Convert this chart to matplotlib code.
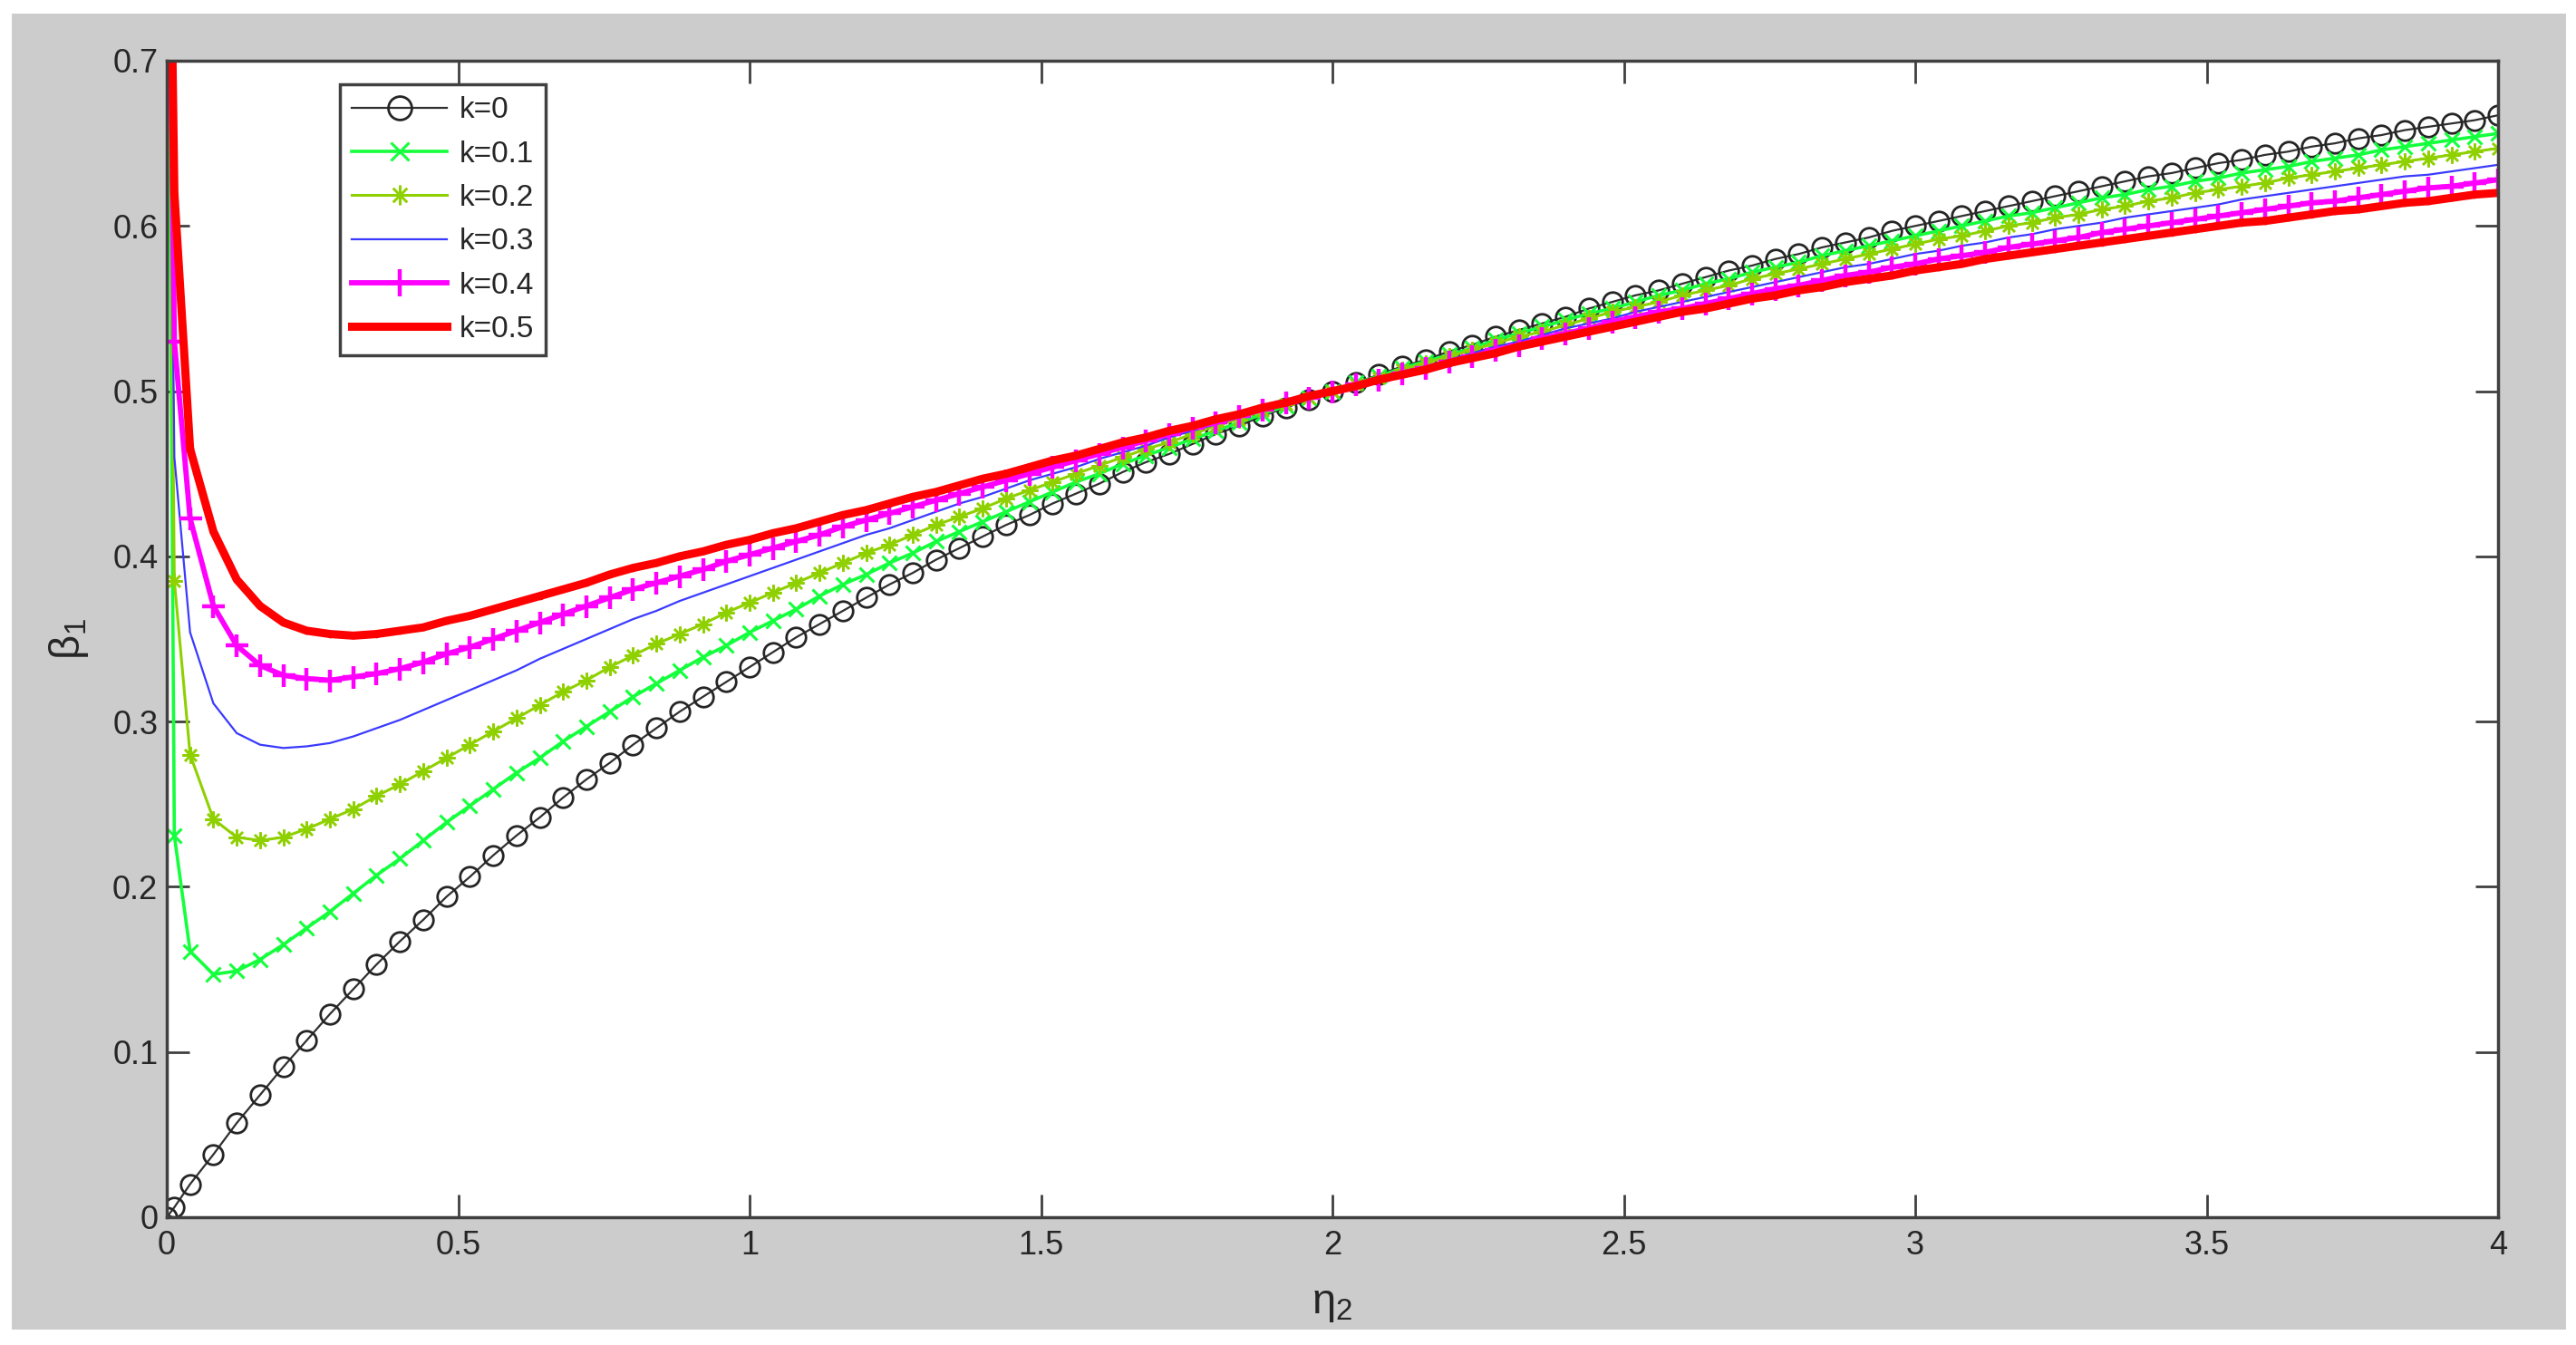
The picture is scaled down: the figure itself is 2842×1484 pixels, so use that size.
import matplotlib
matplotlib.use("Agg")
import matplotlib.pyplot as plt
from matplotlib.patches import Rectangle

plt.rcParams['font.family'] = ['Liberation Sans', 'DejaVu Sans']
plt.rcParams['mathtext.fontset'] = 'custom'
plt.rcParams['mathtext.rm'] = 'Liberation Sans'
plt.rcParams['mathtext.it'] = 'Liberation Sans'
plt.rcParams['mathtext.default'] = 'regular'

# ---------------- data ----------------
eta2 = [0.0, 0.013,
        0.04, 0.08, 0.12, 0.16, 0.20, 0.24, 0.28, 0.32, 0.36, 0.40,
        0.44, 0.48, 0.52, 0.56, 0.60, 0.64, 0.68, 0.72, 0.76, 0.80,
        0.84, 0.88, 0.92, 0.96, 1.00, 1.04, 1.08, 1.12, 1.16, 1.20,
        1.24, 1.28, 1.32, 1.36, 1.40, 1.44, 1.48, 1.52, 1.56, 1.60,
        1.64, 1.68, 1.72, 1.76, 1.80, 1.84, 1.88, 1.92, 1.96, 2.00,
        2.04, 2.08, 2.12, 2.16, 2.20, 2.24, 2.28, 2.32, 2.36, 2.40,
        2.44, 2.48, 2.52, 2.56, 2.60, 2.64, 2.68, 2.72, 2.76, 2.80,
        2.84, 2.88, 2.92, 2.96, 3.00, 3.04, 3.08, 3.12, 3.16, 3.20,
        3.24, 3.28, 3.32, 3.36, 3.40, 3.44, 3.48, 3.52, 3.56, 3.60,
        3.64, 3.68, 3.72, 3.76, 3.80, 3.84, 3.88, 3.92, 3.96, 4.00]

beta_k0 = [0.000, 0.006,
           0.020, 0.038, 0.057, 0.074, 0.091, 0.107, 0.123, 0.138, 0.153, 0.167,
           0.180, 0.194, 0.206, 0.219, 0.231, 0.242, 0.254, 0.265, 0.275, 0.286,
           0.296, 0.306, 0.315, 0.324, 0.333, 0.342, 0.351, 0.359, 0.367, 0.375,
           0.383, 0.390, 0.398, 0.405, 0.412, 0.419, 0.425, 0.432, 0.438, 0.444,
           0.451, 0.457, 0.462, 0.468, 0.474, 0.479, 0.485, 0.490, 0.495, 0.500,
           0.505, 0.510, 0.515, 0.519, 0.524, 0.528, 0.533, 0.537, 0.541, 0.545,
           0.550, 0.554, 0.558, 0.561, 0.565, 0.569, 0.573, 0.576, 0.580, 0.583,
           0.587, 0.590, 0.593, 0.597, 0.600, 0.603, 0.606, 0.609, 0.612, 0.615,
           0.618, 0.621, 0.624, 0.627, 0.630, 0.632, 0.635, 0.638, 0.640, 0.643,
           0.645, 0.648, 0.650, 0.653, 0.655, 0.658, 0.660, 0.662, 0.664, 0.667]

beta_k01 = [0.900, 0.231,
            0.161, 0.147, 0.149, 0.156, 0.165, 0.175, 0.185, 0.196, 0.207, 0.217,
            0.228, 0.239, 0.249, 0.259, 0.269, 0.278, 0.288, 0.297, 0.306, 0.315,
            0.323, 0.331, 0.339, 0.346, 0.354, 0.361, 0.368, 0.376, 0.383, 0.389,
            0.396, 0.402, 0.409, 0.415, 0.421, 0.427, 0.433, 0.439, 0.445, 0.450,
            0.456, 0.461, 0.466, 0.471, 0.476, 0.481, 0.486, 0.491, 0.496, 0.500,
            0.505, 0.509, 0.514, 0.518, 0.522, 0.526, 0.531, 0.535, 0.539, 0.543,
            0.547, 0.550, 0.554, 0.558, 0.561, 0.565, 0.568, 0.572, 0.575, 0.578,
            0.582, 0.585, 0.588, 0.591, 0.594, 0.597, 0.600, 0.603, 0.606, 0.608,
            0.611, 0.614, 0.617, 0.619, 0.622, 0.624, 0.627, 0.629, 0.632, 0.634,
            0.636, 0.639, 0.641, 0.643, 0.646, 0.648, 0.650, 0.652, 0.654, 0.656]

beta_k02 = [0.900, 0.385,
            0.280, 0.241, 0.230, 0.228, 0.230, 0.235, 0.241, 0.247, 0.255, 0.262,
            0.270, 0.278, 0.286, 0.294, 0.302, 0.310, 0.318, 0.325, 0.333, 0.340,
            0.347, 0.353, 0.359, 0.366, 0.372, 0.378, 0.384, 0.390, 0.396, 0.402,
            0.407, 0.413, 0.419, 0.424, 0.429, 0.435, 0.440, 0.445, 0.450, 0.455,
            0.460, 0.465, 0.469, 0.474, 0.479, 0.483, 0.488, 0.492, 0.496, 0.500,
            0.504, 0.508, 0.513, 0.517, 0.521, 0.525, 0.529, 0.533, 0.536, 0.540,
            0.544, 0.548, 0.551, 0.554, 0.558, 0.561, 0.564, 0.568, 0.571, 0.574,
            0.577, 0.580, 0.583, 0.586, 0.589, 0.592, 0.594, 0.597, 0.600, 0.602,
            0.605, 0.607, 0.610, 0.612, 0.615, 0.617, 0.620, 0.622, 0.624, 0.626,
            0.629, 0.631, 0.633, 0.635, 0.637, 0.639, 0.641, 0.643, 0.645, 0.647]

beta_k03 = [0.900, 0.460,
            0.354, 0.311, 0.293, 0.286, 0.284, 0.285, 0.287, 0.291, 0.296, 0.301,
            0.307, 0.313, 0.319, 0.325, 0.331, 0.338, 0.344, 0.350, 0.356, 0.362,
            0.367, 0.373, 0.378, 0.383, 0.388, 0.393, 0.398, 0.403, 0.408, 0.413,
            0.417, 0.422, 0.427, 0.432, 0.436, 0.441, 0.446, 0.450, 0.454, 0.459,
            0.463, 0.467, 0.472, 0.476, 0.480, 0.484, 0.488, 0.492, 0.496, 0.500,
            0.504, 0.508, 0.512, 0.515, 0.519, 0.523, 0.527, 0.530, 0.534, 0.538,
            0.541, 0.544, 0.548, 0.551, 0.554, 0.557, 0.560, 0.563, 0.566, 0.569,
            0.572, 0.575, 0.577, 0.580, 0.583, 0.585, 0.588, 0.590, 0.593, 0.595,
            0.598, 0.600, 0.602, 0.605, 0.607, 0.609, 0.611, 0.613, 0.616, 0.618,
            0.620, 0.622, 0.624, 0.626, 0.628, 0.630, 0.631, 0.633, 0.635, 0.637]

beta_k04 = [0.900, 0.530,
            0.423, 0.370, 0.346, 0.334, 0.328, 0.326, 0.325, 0.327, 0.329, 0.332,
            0.336, 0.341, 0.345, 0.350, 0.355, 0.360, 0.365, 0.370, 0.375, 0.380,
            0.384, 0.388, 0.392, 0.397, 0.401, 0.405, 0.409, 0.413, 0.418, 0.422,
            0.426, 0.430, 0.434, 0.438, 0.442, 0.446, 0.450, 0.454, 0.458, 0.462,
            0.466, 0.470, 0.474, 0.478, 0.481, 0.485, 0.489, 0.493, 0.496, 0.500,
            0.504, 0.507, 0.511, 0.514, 0.518, 0.521, 0.525, 0.528, 0.532, 0.535,
            0.538, 0.542, 0.545, 0.548, 0.550, 0.553, 0.556, 0.559, 0.562, 0.564,
            0.567, 0.570, 0.572, 0.575, 0.577, 0.580, 0.582, 0.584, 0.587, 0.589,
            0.591, 0.593, 0.596, 0.598, 0.600, 0.602, 0.604, 0.606, 0.608, 0.610,
            0.612, 0.614, 0.615, 0.617, 0.619, 0.621, 0.623, 0.624, 0.626, 0.628]

beta_k05 = [0.950, 0.620,
            0.465, 0.415, 0.386, 0.370, 0.360, 0.355, 0.353, 0.352, 0.353, 0.355,
            0.357, 0.361, 0.364, 0.368, 0.372, 0.376, 0.380, 0.384, 0.389, 0.393,
            0.396, 0.400, 0.403, 0.407, 0.410, 0.414, 0.417, 0.421, 0.425, 0.428,
            0.432, 0.436, 0.439, 0.443, 0.447, 0.450, 0.454, 0.458, 0.461, 0.465,
            0.469, 0.472, 0.476, 0.479, 0.483, 0.486, 0.490, 0.493, 0.497, 0.500,
            0.503, 0.507, 0.510, 0.513, 0.517, 0.520, 0.523, 0.527, 0.530, 0.533,
            0.536, 0.539, 0.542, 0.545, 0.548, 0.550, 0.553, 0.556, 0.558, 0.561,
            0.563, 0.566, 0.568, 0.570, 0.573, 0.575, 0.577, 0.580, 0.582, 0.584,
            0.586, 0.588, 0.590, 0.592, 0.594, 0.596, 0.598, 0.600, 0.602, 0.603,
            0.605, 0.607, 0.609, 0.610, 0.612, 0.614, 0.615, 0.617, 0.619, 0.620]

series_labels = ['k=0', 'k=0.1', 'k=0.2', 'k=0.3', 'k=0.4', 'k=0.5']

x_ticks = [0, 0.5, 1, 1.5, 2, 2.5, 3, 3.5, 4]
x_tick_labels = ['0', '0.5', '1', '1.5', '2', '2.5', '3', '3.5', '4']
y_ticks = [0, 0.1, 0.2, 0.3, 0.4, 0.5, 0.6, 0.7]
y_tick_labels = ['0', '0.1', '0.2', '0.3', '0.4', '0.5', '0.6', '0.7']

# ---------------- figure ----------------
W, H = 2842, 1484
fig = plt.figure(figsize=(W / 100, H / 100), dpi=100)
fig.patch.set_facecolor('white')
fig.add_artist(Rectangle((13 / W, 1 - 1467 / H), (2831 - 13) / W, (1467 - 15) / H,
                         transform=fig.transFigure, facecolor='#cccccc',
                         edgecolor='none', zorder=-10))

ax = fig.add_axes([184 / W, 1 - 1343 / H, (2756 - 184) / W, (1343 - 67) / H])
ax.set_facecolor('white')

styles = [
    dict(color='#303030', lw=1.6, marker='o', ms=15.5, mfc='none', mec='#252525', mew=2.0),
    dict(color='#14ff3c', lw=2.6, marker='x', ms=12, mew=2.2),
    dict(color='#8fd000', lw=2.2, marker=(8, 2, 0), ms=13, mew=1.8),
    dict(color='#3a3aff', lw=1.6),
    dict(color='#ff00ff', lw=4.2, marker='+', ms=18, mew=3.2),
    dict(color='#ff0000', lw=6.5, marker='.', ms=9),
]
all_series = [beta_k0, beta_k01, beta_k02, beta_k03, beta_k04, beta_k05]

for ys, lab, st in zip(all_series, series_labels, styles):
    ax.plot(eta2, ys, label=lab, **st)

ax.set_xlim(0, 4)
ax.set_ylim(0, 0.7)
ax.set_xticks(x_ticks)
ax.set_xticklabels(x_tick_labels)
ax.set_yticks(y_ticks)
ax.set_yticklabels(y_tick_labels)

ax.tick_params(axis='both', direction='in', length=18, width=2.0, top=True, right=True,
               labelsize=26, color='#404040', labelcolor='#262626')
ax.tick_params(axis='x', pad=10)
ax.tick_params(axis='y', pad=7)
for sp in ax.spines.values():
    sp.set_linewidth(2.5)
    sp.set_color('#404040')

ax.set_xlabel(r'$\eta_2$', fontsize=34, color='#262626')
ax.set_ylabel(r'$\beta_1$', fontsize=34, color='#262626')
ax.xaxis.set_label_coords(0.5, -0.0755)
ax.xaxis.label.set_verticalalignment('center')
ax.yaxis.set_label_coords(-0.042, 0.5)
ax.yaxis.label.set_verticalalignment('center')

leg = ax.legend(loc='upper left', bbox_to_anchor=(0.0743, 0.9796), borderaxespad=0,
                fontsize=24, frameon=True, fancybox=False, edgecolor='#404040',
                framealpha=1, handlelength=3.15, handletextpad=0.4, labelspacing=0.52,
                borderpad=0.4, numpoints=1, markerscale=1.2)
leg.get_frame().set_linewidth(2.5)
for t in leg.get_texts():
    t.set_color('#262626')

fig.savefig('out.png', dpi=100)
